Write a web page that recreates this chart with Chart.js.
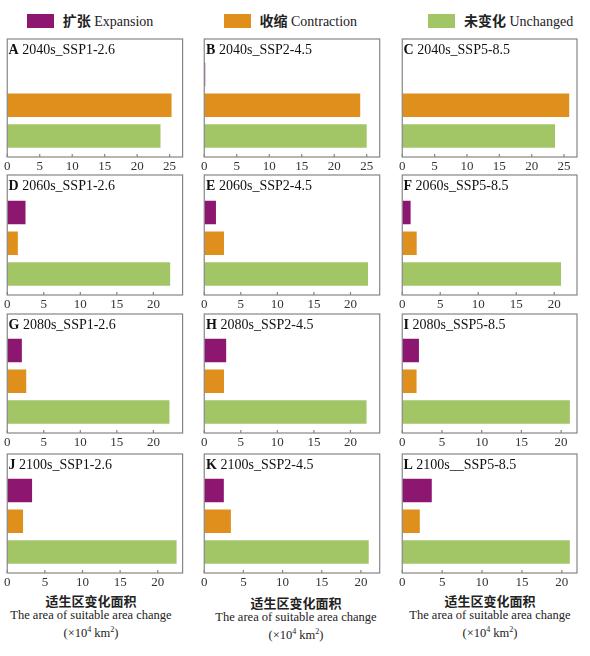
<!DOCTYPE html>
<html>
<head>
<meta charset="utf-8">
<script src="https://cdn.jsdelivr.net/npm/chart.js@4/dist/chart.umd.min.js"></script>
<style>
  html, body { margin:0; padding:0; background:#fff; }
  body { width:590px; height:656px; position:relative; overflow:hidden; font-family:"Liberation Serif","Noto Sans CJK SC",serif; color:#222; }
  canvas { position:absolute; }
  .lg-box { position:absolute; width:27px; height:14px; }
  .lg-txt { position:absolute; font-size:14px; line-height:16px; white-space:nowrap; color:#222; }
  .cn { font-family:"Noto Sans CJK SC",sans-serif; font-weight:bold; font-size:13px; }
  .ttl { position:absolute; font-size:14px; line-height:16px; white-space:nowrap; color:#111; }
  .ttl b { font-weight:bold; }
  .xl { position:absolute; text-align:center; white-space:nowrap; color:#222; width:200px; }
</style>
</head>
<body>
<script>
// ---- data ----
const categories = ['扩张 Expansion', '收缩 Contraction', '未变化 Unchanged'];
const panelLetters = ['A','B','C','D','E','F','G','H','I','J','K','L'];
const panelNames = ['2040s_SSP1-2.6','2040s_SSP2-4.5','2040s_SSP5-8.5',
                    '2060s_SSP1-2.6','2060s_SSP2-4.5','2060s_SSP5-8.5',
                    '2080s_SSP1-2.6','2080s_SSP2-4.5','2080s_SSP5-8.5',
                    '2100s_SSP1-2.6','2100s_SSP2-4.5','2100s__SSP5-8.5'];
const expansion   = [0,    0.15, 0,    2.5,  1.6,  1.1,  2.0,  3.0,  2.1,  3.3,  2.5,  3.7];
const contraction = [25.3, 24.0, 25.8, 1.45, 2.7,  1.9,  2.6,  2.7,  1.8,  2.1,  3.4,  2.2];
const unchanged   = [23.6, 25.0, 23.6, 22.3, 22.4, 20.9, 22.2, 22.2, 21.1, 22.5, 21.0, 21.0];
const axisMax     = [27,   27,   27,   24,   24,   23,   24,   24,   22,   23.3, 22.4, 21.9];
const tickValues  = [0, 5, 10, 15, 20, 25];
const seriesColors = ['#8c1670', '#df8f1c', '#a2c566'];
const xTitleCN = '适生区变化面积';
const xTitleEN = 'The area of suitable area change';
const xTitleUnit = '(×10<sup style="font-size:8px">4</sup> km<sup style="font-size:8px">2</sup>)';

// ---- layout ----
const colLeft = [6.7, 204.3, 401.7];
const colWidth = [175.6, 175.7, 175];
const rowTop = [39, 175, 314, 454];
const rowHeight = [118, 120, 119, 119];
const bandH = 92.3, bottomGap = 5.6;

// legend
const legendX = [26.7, 223.5, 428];
categories.forEach((c, i) => {
  const b = document.createElement('div');
  b.className = 'lg-box';
  b.style.left = legendX[i] + 'px'; b.style.top = '13.5px';
  b.style.background = seriesColors[i];
  document.body.appendChild(b);
  const t = document.createElement('div');
  t.className = 'lg-txt';
  t.style.left = (legendX[i] + 36) + 'px'; t.style.top = '12px';
  const parts = c.split(' ');
  t.innerHTML = '<span class="cn" style="font-size:14px">' + parts[0] + '</span> ' + parts.slice(1).join(' ');
  document.body.appendChild(t);
});

const framePlugin = {
  id: 'frame',
  afterDraw(chart) {
    const ctx = chart.ctx, ca = chart.chartArea;
    const top = 1, bottom = ca.bottom + bottomGap;
    ctx.save();
    ctx.strokeStyle = '#858585';
    ctx.lineWidth = 1.2;
    ctx.strokeRect(ca.left, top, ca.right - ca.left, bottom - top);
    const xs = chart.scales.x;
    ctx.beginPath();
    xs.ticks.forEach(t => {
      const px = xs.getPixelForValue(t.value);
      ctx.moveTo(px, bottom);
      ctx.lineTo(px, bottom - 3);
    });
    ctx.stroke();
    ctx.restore();
  }
};

for (let i = 0; i < 12; i++) {
  const r = Math.floor(i / 3), c = i % 3;
  const fl = colLeft[c], fw = colWidth[c], ft = rowTop[r], fh = rowHeight[r];
  const cv = document.createElement('canvas');
  const W = Math.round(fw + 20), H = Math.round(fh + 19);
  cv.width = W; cv.height = H;
  cv.style.width = W + 'px'; cv.style.height = H + 'px';
  cv.style.left = (fl - 10) + 'px'; cv.style.top = (ft - 1) + 'px';
  document.body.appendChild(cv);
  const padRight = W - 10 - fw;
  new Chart(cv, {
    type: 'bar',
    data: {
      labels: categories,
      datasets: [{
        data: [expansion[i], contraction[i], unchanged[i]],
        backgroundColor: seriesColors,
        borderWidth: 0,
        categoryPercentage: 0.77,
        barPercentage: 1
      }]
    },
    options: {
      indexAxis: 'y',
      responsive: false,
      animation: false,
      devicePixelRatio: 1,
      layout: { padding: { left: 10, right: padRight, top: 1 + fh - bandH - bottomGap, bottom: 0 } },
      plugins: { legend: { display: false }, tooltip: { enabled: false }, title: { display: false } },
      scales: {
        y: { display: false },
        x: {
          min: 0, max: axisMax[i],
          afterBuildTicks(s) { s.ticks = tickValues.filter(v => v <= s.max).map(v => ({ value: v })); },
          afterFit(s) { s.height = 18 + bottomGap; },
          ticks: { padding: 7, autoSkip: false, maxRotation: 0,
                   font: { family: 'Liberation Serif', size: 13 }, color: '#333' },
          grid: { display: false, drawTicks: false },
          border: { display: false }
        }
      }
    },
    plugins: [framePlugin]
  });
  const tt = document.createElement('div');
  tt.className = 'ttl';
  tt.style.left = (fl + 1.8) + 'px';
  tt.style.top = (ft + 3) + 'px';
  tt.innerHTML = '<b>' + panelLetters[i] + '</b> ' + panelNames[i];
  document.body.appendChild(tt);
}

// x-axis titles
const xtCenter = [91, 296, 490];
const xtShift = [0, 2, 0];
xtCenter.forEach((cx, i) => {
  const l1 = document.createElement('div');
  l1.className = 'xl cn';
  l1.style.left = (cx - 100) + 'px'; l1.style.top = (592 + xtShift[i]) + 'px';
  l1.style.fontSize = '13px'; l1.style.lineHeight = '18px';
  l1.textContent = xTitleCN;
  document.body.appendChild(l1);
  const l2 = document.createElement('div');
  l2.className = 'xl';
  l2.style.left = (cx - 100) + 'px'; l2.style.top = (606.5 + xtShift[i]) + 'px';
  l2.style.fontSize = '12.5px'; l2.style.lineHeight = '16px';
  l2.textContent = xTitleEN;
  document.body.appendChild(l2);
  const l3 = document.createElement('div');
  l3.className = 'xl';
  l3.style.left = (cx - 100) + 'px'; l3.style.top = (621.5 + xtShift[i]) + 'px';
  l3.style.fontSize = '12.5px'; l3.style.lineHeight = '16px';
  l3.innerHTML = xTitleUnit;
  document.body.appendChild(l3);
});
</script>
</body>
</html>
